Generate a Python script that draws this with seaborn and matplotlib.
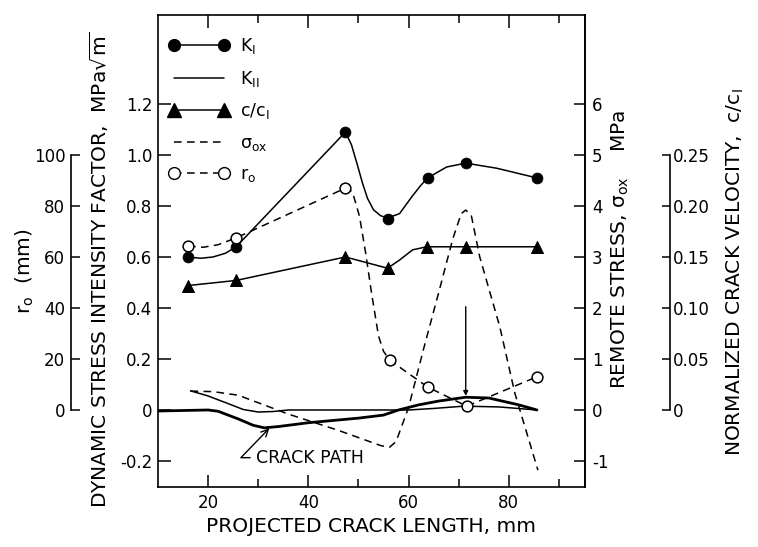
import numpy as np
import matplotlib
matplotlib.use("Agg")
import matplotlib.pyplot as plt
from matplotlib.lines import Line2D
from matplotlib.ticker import FixedLocator, FuncFormatter
import seaborn as sns

# measured points (markers), projected crack length in mm
k1_x = [16.0, 25.6, 47.4, 55.8, 63.8, 71.4, 85.6]
k1_y = [0.60, 0.64, 1.09, 0.75, 0.91, 0.97, 0.91]
# K_I curve as drawn through the points
k1_curve_x = [16.0, 18.5, 21.0, 23.5, 25.6, 47.4, 48.6, 49.8, 50.8, 51.8, 53.0,
              54.4, 55.8, 58.2, 60.6, 62.4, 63.8, 67.6, 71.4, 77.6, 85.6]
k1_curve_y = [0.60, 0.595, 0.60, 0.615, 0.64, 1.09, 1.04, 0.96, 0.89, 0.83, 0.785,
              0.762, 0.753, 0.77, 0.835, 0.88, 0.91, 0.953, 0.968, 0.948, 0.91]

vel_x = [16.0, 25.6, 47.4, 55.8, 63.6, 71.4, 85.6]
vel_y = [0.122, 0.127, 0.150, 0.139, 0.160, 0.160, 0.160]
vel_curve_x = [16.0, 25.6, 47.4, 55.8, 58.2, 60.8, 63.6, 71.4, 85.6]
vel_curve_y = [0.122, 0.127, 0.150, 0.139, 0.147, 0.157, 0.160, 0.160, 0.160]

r0_x = [16.0, 25.6, 47.4, 56.2, 63.8, 71.6, 85.6]
r0_y = [64.3, 67.5, 87.0, 19.6, 9.0, 1.5, 13.0]
r0_curve_x = [16.0, 19.0, 22.0, 25.6, 47.4, 48.8, 50.2, 51.4, 52.6, 54.0, 55.0,
              56.2, 63.8, 71.6, 85.6]
r0_curve_y = [64.3, 63.8, 64.8, 67.5, 87.0, 85.5, 76.0, 62.0, 46.0, 29.0, 23.0,
              19.6, 9.0, 1.5, 13.0]

# remote stress sigma_ox, MPa
sig_x = [16.5, 21.0, 26.0, 36.0, 46.0, 54.5, 56.2, 57.5, 60.0, 63.0, 66.0,
         68.8, 70.5, 71.4, 72.5, 74.2, 78.2, 81.2, 85.8]
sig_y = [0.37, 0.36, 0.29, -0.08, -0.40, -0.70, -0.73, -0.62, 0.05, 1.20, 2.30,
         3.35, 3.85, 3.92, 3.82, 3.00, 1.63, 0.33, -1.18]

k2_x = [16.5, 20.0, 24.0, 27.0, 30.0, 33.0, 36.0, 45.0, 55.0, 60.0, 65.0,
        71.0, 78.0, 85.6]
k2_y = [0.075, 0.055, 0.025, 0.002, -0.008, -0.006, 0.0, 0.0, 0.0, 0.0, 0.006,
        0.015, 0.012, 0.0]

path_x = [10.0, 20.0, 22.0, 26.0, 29.0, 31.2, 34.0, 40.0, 50.0, 55.0, 58.0,
          62.0, 66.0, 71.4, 76.0, 82.0, 85.6]
path_y = [-0.004, 0.0, -0.005, -0.035, -0.06, -0.07, -0.065, -0.05, -0.032,
          -0.02, 0.0, 0.02, 0.035, 0.05, 0.047, 0.02, 0.0]

k_ticks = [-0.2, 0.0, 0.2, 0.4, 0.6, 0.8, 1.0, 1.2]
r0_ticks = [0, 20, 40, 60, 80, 100]
sig_ticks = [-1, 0, 1, 2, 3, 4, 5, 6]
vel_ticks = [0.0, 0.05, 0.10, 0.15, 0.20, 0.25]
x_major = [20, 40, 60, 80]
x_minor = [30, 50, 70, 90]

# scale factors that line up the extra axes with the K axis
R0_PER_K = 100.0
SIG_PER_K = 5.0
VEL_PER_K = 0.25
K_LIM = (-0.302, 1.549)
X_LIM = (10, 95.2)

sns.set_style("ticks")
plt.rcParams["font.family"] = ["DejaVu Sans"]
plt.rcParams["mathtext.default"] = "regular"
plt.rcParams["axes.unicode_minus"] = False
for key in ("text.color", "axes.labelcolor", "xtick.color", "ytick.color", "axes.edgecolor"):
    plt.rcParams[key] = "black"

fig = plt.figure(figsize=(7.58, 5.47), dpi=100)
ax = fig.add_axes([0.2084, 0.1097, 0.5634, 0.8629])
ax_r = ax.twinx()
ax_s = ax.twinx()
ax_v = ax.twinx()

ax.set_xlim(*X_LIM)
ax.set_ylim(*K_LIM)
ax_r.set_ylim(K_LIM[0] * R0_PER_K, K_LIM[1] * R0_PER_K)
ax_s.set_ylim(K_LIM[0] * SIG_PER_K, K_LIM[1] * SIG_PER_K)
ax_v.set_ylim(K_LIM[0] * VEL_PER_K, K_LIM[1] * VEL_PER_K)

lw = 1.1
dash = (0, (5, 3.5))

# crack path and K_II
sns.lineplot(x=path_x, y=path_y, ax=ax, color="k", lw=2.0, sort=False, estimator=None)
sns.lineplot(x=k2_x, y=k2_y, ax=ax, color="k", lw=lw, sort=False, estimator=None)
# K_I
sns.lineplot(x=k1_curve_x, y=k1_curve_y, ax=ax, color="k", lw=lw, sort=False, estimator=None)
sns.scatterplot(x=k1_x, y=k1_y, ax=ax, color="k", marker="o", s=60, edgecolor="k", zorder=5)
# sigma_ox
sns.lineplot(x=sig_x, y=sig_y, ax=ax_s, color="k", lw=lw, linestyle=dash, sort=False, estimator=None)
# r0
sns.lineplot(x=r0_curve_x, y=r0_curve_y, ax=ax_r, color="k", lw=lw, linestyle=dash, sort=False, estimator=None)
sns.scatterplot(x=r0_x, y=r0_y, ax=ax_r, marker="o", s=60, facecolor="white", edgecolor="k", linewidth=1.1, zorder=5)
# c/c1
sns.lineplot(x=vel_curve_x, y=vel_curve_y, ax=ax_v, color="k", lw=lw, sort=False, estimator=None)
sns.scatterplot(x=vel_x, y=vel_y, ax=ax_v, color="k", marker="^", s=75, edgecolor="k", zorder=5)

# annotations
ax.annotate("", xy=(71.4, 0.055), xytext=(71.4, 0.405),
            arrowprops=dict(arrowstyle="-|>", color="k", lw=1.0, mutation_scale=7, shrinkA=0, shrinkB=0))
ax.annotate("CRACK PATH", xy=(32.2, -0.072), xytext=(29.6, -0.187),
            fontsize=12.5, ha="left", va="center",
            arrowprops=dict(arrowstyle="->", color="k", lw=1.0, shrinkA=2, shrinkB=0,
                            connectionstyle="angle,angleA=0,angleB=46,rad=0"))

spine_w = 1.2
for a in (ax, ax_r, ax_s, ax_v):
    for s in a.spines.values():
        s.set_linewidth(spine_w)
        s.set_color("k")

# main axis ticks
ax.xaxis.set_ticks_position("both")
ax.xaxis.set_major_locator(FixedLocator(x_major))
ax.xaxis.set_minor_locator(FixedLocator(x_minor))
ax.tick_params(axis="x", which="major", direction="in", top=True, bottom=True,
               labeltop=False, length=9, width=1.1, labelsize=12, pad=5)
ax.tick_params(axis="x", which="minor", direction="in", top=True, bottom=True,
               length=5.5, width=1.1)
ax.yaxis.set_major_locator(FixedLocator(k_ticks))
ax.yaxis.set_major_formatter(FuncFormatter(lambda v, p: "0" if abs(v) < 1e-9 else f"{v:.1f}"))
ax.tick_params(axis="y", direction="in", left=True, right=False, length=9,
               width=1.1, labelsize=12, pad=4)

# r0 axis on the far left
for side in ("right", "top", "bottom"):
    ax_r.spines[side].set_visible(False)
ax_r.spines["left"].set_visible(True)
ax_r.spines["left"].set_position(("axes", -0.204))
ax_r.spines["left"].set_bounds(0, 100)
ax_r.yaxis.set_ticks_position("left")
ax_r.yaxis.set_major_locator(FixedLocator(r0_ticks))
ax_r.tick_params(axis="y", direction="in", length=6.5, width=1.1, labelsize=12, pad=4)

# remote stress axis on the box's right edge
for side in ("left", "top", "bottom"):
    ax_s.spines[side].set_visible(False)
ax_s.yaxis.set_major_locator(FixedLocator(sig_ticks))
ax_s.tick_params(axis="y", direction="in", length=8, width=1.1, labelsize=12, pad=5)

# crack velocity axis on the far right
for side in ("left", "top", "bottom"):
    ax_v.spines[side].set_visible(False)
ax_v.spines["right"].set_position(("axes", 1.199))
ax_v.spines["right"].set_bounds(0, 0.25)
ax_v.yaxis.set_major_locator(FixedLocator(vel_ticks))
ax_v.yaxis.set_major_formatter(FuncFormatter(lambda v, p: "0" if abs(v) < 1e-9 else f"{v:.2f}"))
ax_v.tick_params(axis="y", direction="in", length=6, width=1.1, labelsize=12, pad=2)

for a in (ax_r, ax_s, ax_v):
    a.set_ylabel("")

# axis titles
lab = 14.5
ax.set_xlabel("PROJECTED CRACK LENGTH, mm", fontsize=lab)
ax.xaxis.set_label_coords(0.499, -0.064)
ax.set_ylabel("")
ax.text(-0.136, 0.46, "DYNAMIC STRESS INTENSITY FACTOR,  MPa$\\sqrt{m}$",
        transform=ax.transAxes, rotation=90, ha="center", va="center", fontsize=lab)
ax.text(-0.311, 0.458, "$r_o$  (mm)", transform=ax.transAxes, rotation=90,
        ha="center", va="center", fontsize=lab)
ax.text(1.082, 0.504, "REMOTE STRESS, $\\sigma_{ox}$    MPa", transform=ax.transAxes,
        rotation=90, ha="center", va="center", fontsize=lab)
ax.text(1.351, 0.455, "NORMALIZED CRACK VELOCITY,  $c/c_I$", transform=ax.transAxes,
        rotation=90, ha="center", va="center", fontsize=lab)

# legend
handles = [
    Line2D([], [], color="k", lw=lw, marker="o", markersize=8.5),
    Line2D([], [], color="k", lw=lw),
    Line2D([], [], color="k", lw=lw, marker="^", markersize=9.5),
    Line2D([], [], color="k", lw=lw, linestyle=dash),
    Line2D([], [], color="k", lw=lw, linestyle=dash, marker="o", markersize=8.5,
           markerfacecolor="white"),
]
labels = ["$K_I$", "$K_{II}$", "$c/c_I$", "$\\sigma_{ox}$", "$r_o$"]
ax_v.legend(handles, labels, loc="upper left", bbox_to_anchor=(0.025, 0.955),
            frameon=False, numpoints=2, fontsize=12.5, handlelength=3.5,
            handletextpad=0.6, labelspacing=0.72, borderpad=0, borderaxespad=0)

fig.savefig("out.png", dpi=100)
